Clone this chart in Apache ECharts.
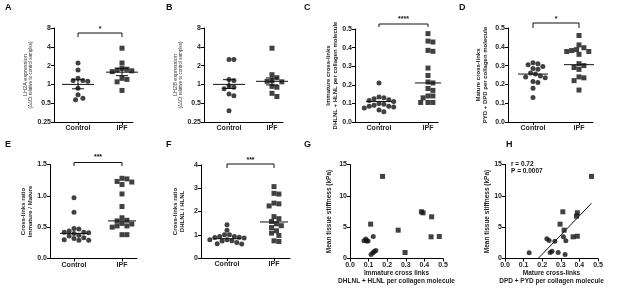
<!DOCTYPE html>
<html>
<head>
<meta charset="utf-8">
<script src="https://cdn.jsdelivr.net/npm/echarts@6/dist/echarts.min.js"></script>
<style>
html, body { margin: 0; padding: 0; background: #fff; }
#chart { width: 617px; height: 290px; }
</style>
</head>
<body>
<div id="chart"></div>
<script>
// values
const groups = ['Control', 'IPF'];

// A - LH2A expression
const lh2aControl = [2.2, 1.7, 1.25, 1.15, 1.15, 1.12, 0.87, 0.68, 0.6, 0.57];
const lh2aIPF = [3.8, 2.2, 1.8, 1.75, 1.7, 1.65, 1.6, 1.25, 1.2, 1.1, 0.8];
const lh2aMean = [1.0, 1.57];
const lh2aSem = [[0.85, 1.19], [1.38, 1.8]];

// B - LH2B expression
const lh2bControl = [2.5, 2.5, 1.2, 1.15, 0.95, 0.9, 0.85, 0.7, 0.66, 0.38];
const lh2bIPF = [3.8, 1.43, 1.28, 1.15, 1.12, 1.1, 0.93, 0.9, 0.72, 0.64];
const lh2bMean = [1.0, 1.12];
const lh2bSem = [[0.86, 1.19], [0.98, 1.27]];

// C - immature cross-links
const immatureControl = [0.21, 0.135, 0.13, 0.125, 0.12, 0.115, 0.11, 0.1, 0.095, 0.09, 0.085, 0.085, 0.08, 0.075, 0.065, 0.055];
const immatureIPF = [0.475, 0.435, 0.43, 0.385, 0.38, 0.29, 0.25, 0.215, 0.21, 0.18, 0.17, 0.14, 0.14, 0.13, 0.105, 0.105, 0.105];
const immatureMedian = [0.11, 0.21];

// D - mature cross-links
const matureControl = [0.315, 0.31, 0.305, 0.295, 0.285, 0.28, 0.26, 0.255, 0.245, 0.24, 0.235, 0.215, 0.21, 0.18, 0.13];
const matureIPF = [0.46, 0.41, 0.395, 0.385, 0.38, 0.375, 0.375, 0.36, 0.31, 0.3, 0.29, 0.28, 0.24, 0.235, 0.22, 0.17];
const matureMedian = [0.255, 0.305];

// E - immature / mature ratio
const ratioImmControl = [0.97, 0.74, 0.48, 0.47, 0.44, 0.42, 0.42, 0.41, 0.40, 0.37, 0.36, 0.33, 0.32, 0.30, 0.29, 0.29];
const ratioImmIPF = [1.28, 1.27, 1.23, 1.22, 1.18, 1.03, 0.83, 0.65, 0.61, 0.60, 0.56, 0.55, 0.52, 0.52, 0.50, 0.38, 0.38];
const ratioImmMedian = [0.40, 0.60];

// F - DHLNL / HLNL ratio
const ratioDhControl = [1.43, 1.19, 1.0, 1.0, 0.93, 0.92, 0.89, 0.88, 0.86, 0.79, 0.79, 0.74, 0.73, 0.67, 0.61, 0.6];
const ratioDhIPF = [3.07, 2.78, 2.75, 2.36, 2.33, 2.24, 1.78, 1.69, 1.57, 1.47, 1.39, 1.31, 1.17, 1.07, 0.97, 0.74, 0.71];
const ratioDhMedian = [0.83, 1.55];

// G - stiffness vs immature cross-links [x, kPa]
const stiffImmControl = [[0.075, 2.85], [0.085, 3.1], [0.09, 2.8], [0.097, 2.8], [0.125, 3.5], [0.113, 0.64], [0.123, 0.9], [0.13, 1.12], [0.139, 1.28]];
const stiffImmIPF = [[0.175, 13.1], [0.111, 5.48], [0.259, 4.52], [0.296, 0.96], [0.384, 7.45], [0.393, 7.29], [0.439, 6.65], [0.436, 3.46], [0.48, 3.51]];

// H - stiffness vs mature cross-links [x, kPa]
const stiffMatControl = [[0.13, 0.9], [0.225, 3.14], [0.237, 2.87], [0.268, 2.77], [0.243, 0.96], [0.253, 1.17], [0.286, 0.96], [0.323, 0.64], [0.327, 2.82], [0.314, 3.46]];
const stiffMatIPF = [[0.465, 13.1], [0.311, 7.45], [0.389, 7.29], [0.384, 6.75], [0.296, 5.48], [0.318, 4.52], [0.366, 3.46], [0.389, 3.56]];
const stiffMatFit = [[0.178, 0], [0.465, 8.8]];
const stiffMatStats = ['r = 0.72', 'P = 0.0007'];

const FONT = '"Liberation Sans", Arial, sans-serif';
const INK = '#111';

const columnPanels = [
    { box: [54, 28, 79, 94], ctrl: 78, ipf: 122, y: { type: 'log', min: 0.25, max: 8 },
      c: lh2aControl, p: lh2aIPF, mid: lh2aMean, sem: lh2aSem, half: 16,
      name: '{a|LH2A expression}\n{b|(ΔΔCt relative to control samples)}', gap: 15,
      sig: { text: '*', bar: 5, leg: 9, star: 1.5 } },
    { box: [204, 28, 79, 94], ctrl: 229, ipf: 272, y: { type: 'log', min: 0.25, max: 8 },
      c: lh2bControl, p: lh2bIPF, mid: lh2bMean, sem: lh2bSem, half: 16,
      name: '{a|LH2B expression}\n{b|(ΔΔCt relative to control samples)}', gap: 17 },
    { box: [355, 29, 83, 93], ctrl: 379, ipf: 428, y: { min: 0, max: 0.5, interval: 0.1, dec: 1 },
      c: immatureControl, p: immatureIPF, mid: immatureMedian, half: 13,
      name: 'Immature cross-links\nDHLNL + HLNL per collagen molecule', gap: 15,
      sig: { text: '****', bar: -5, leg: -2, star: -9.5 } },
    { box: [508, 28, 85, 94], ctrl: 533, ipf: 579, y: { min: 0, max: 0.5, interval: 0.1, dec: 1 },
      c: matureControl, p: matureIPF, mid: matureMedian, half: 15,
      name: 'Mature cross-links\nPYD + DPD per collagen molecule', gap: 19,
      sig: { text: '*', bar: -5, leg: 0, star: -8.5 } },
    { box: [50, 164.5, 87, 94], ctrl: 74, ipf: 122, y: { min: 0, max: 1.5, interval: 0.5, dec: 1 },
      c: ratioImmControl, p: ratioImmIPF, mid: ratioImmMedian, half: 14,
      name: 'Cross-links ratio\nImmature / Mature', gap: 16,
      sig: { text: '***', bar: -2, leg: 1.5, star: -7 } },
    { box: [201, 165, 89, 93], ctrl: 227, ipf: 274, y: { min: 0, max: 4, interval: 1, dec: 0 },
      c: ratioDhControl, p: ratioDhIPF, mid: ratioDhMedian, half: 14,
      name: 'Cross-links ratio\nDHLNL / HLNL', gap: 15,
      sig: { text: '***', bar: -1, leg: 3, star: -4.5 } }
];

const tickLabel = { color: '#222', fontSize: 7, fontWeight: 'bold', fontFamily: FONT };
const axisLine = { show: true, onZero: false, lineStyle: { color: '#000', width: 1 } };
const axisTick = { show: true, length: 3, lineStyle: { color: '#000', width: 1 } };
const nameStyle = { color: '#222', fontSize: 6, fontWeight: 'bold', fontFamily: FONT, lineHeight: 7 };

// simple beeswarm: spread equal-ish values sideways so the dots don't pile up
function swarm(values, toPx, dia) {
    const placed = [];
    const out = new Array(values.length);
    const order = values.map((_, i) => i).sort((a, b) => values[b] - values[a]);
    order.forEach(i => {
        const py = toPx(values[i]);
        let best = 0;
        for (let k = 0; k < 80; k++) {
            const step = Math.ceil(k / 2) * dia * 0.5;
            const off = k % 2 ? step : -step;
            if (placed.every(q => (q[0] - off) ** 2 + (q[1] - py) ** 2 >= dia * dia)) { best = off; break; }
        }
        placed.push([best, py]);
        out[i] = best;
    });
    return out;
}

const grids = [], xAxes = [], yAxes = [], series = [];

columnPanels.forEach((p, i) => {
    const [left, top, width, height] = p.box;
    const spacing = p.ipf - p.ctrl;
    grids.push({ left, top, width, height });
    xAxes.push({
        gridIndex: i, type: 'value',
        min: (left - p.ctrl) / spacing, max: (left + width - p.ctrl) / spacing,
        splitLine: { show: false }, axisLine,
        axisTick: Object.assign({ customValues: [0, 1] }, axisTick),
        axisLabel: Object.assign({ customValues: [0, 1], margin: 3,
            formatter: v => (v === 0 ? groups[0] : v === 1 ? groups[1] : '') }, tickLabel)
    });
    const isLog = p.y.type === 'log';
    yAxes.push({
        gridIndex: i, type: isLog ? 'log' : 'value',
        logBase: 2, min: p.y.min, max: p.y.max, interval: p.y.interval,
        splitLine: { show: false }, axisLine, axisTick,
        axisLabel: Object.assign({ margin: 3,
            formatter: v => (isLog ? String(+v.toFixed(2)) : v.toFixed(p.y.dec)) }, tickLabel),
        name: p.name, nameLocation: 'middle', nameRotate: 90, nameGap: p.gap,
        nameTextStyle: isLog ? {
            rich: {
                a: { fontSize: 5.5, color: '#333', fontFamily: FONT, lineHeight: 6 },
                b: { fontSize: 4.5, color: '#333', fontFamily: FONT, lineHeight: 5 }
            }
        } : nameStyle
    });
    const toPx = isLog
        ? v => Math.log2(v) * height / (Math.log2(p.y.max) - Math.log2(p.y.min))
        : v => v * height / (p.y.max - p.y.min);
    [p.c, p.p].forEach((vals, g) => {
        const offs = swarm(vals, toPx, 4.9);
        series.push({
            type: 'scatter', xAxisIndex: i, yAxisIndex: i,
            symbol: g ? 'rect' : 'circle', symbolSize: 5,
            itemStyle: { color: INK },
            data: vals.map((v, k) => [g + offs[k] / spacing, v])
        });
    });
    // mean (+ SEM) or median line
    series.push({
        type: 'custom', xAxisIndex: i, yAxisIndex: i, clip: false, z: 3,
        encode: { x: 0, y: 1 },
        data: p.mid.map((m, g) => [g, m, p.sem ? p.sem[g][0] : m, p.sem ? p.sem[g][1] : m]),
        renderItem: (params, api) => {
            const c = api.coord([api.value(0), api.value(1)]);
            const st = { stroke: INK, lineWidth: 1 };
            const kids = [{ type: 'line', shape: { x1: c[0] - p.half, y1: c[1], x2: c[0] + p.half, y2: c[1] }, style: st }];
            if (p.sem) {
                const lo = api.coord([api.value(0), api.value(2)]);
                const hi = api.coord([api.value(0), api.value(3)]);
                kids.push({ type: 'line', shape: { x1: c[0], y1: lo[1], x2: c[0], y2: hi[1] }, style: st });
                kids.push({ type: 'line', shape: { x1: c[0] - 6, y1: lo[1], x2: c[0] + 6, y2: lo[1] }, style: st });
                kids.push({ type: 'line', shape: { x1: c[0] - 6, y1: hi[1], x2: c[0] + 6, y2: hi[1] }, style: st });
            }
            return { type: 'group', children: kids };
        }
    });
    if (p.sig) {
        series.push({
            type: 'custom', xAxisIndex: i, yAxisIndex: i, clip: false,
            encode: { x: 0, y: 1 },
            data: [[0, p.y.max]],
            renderItem: (params, api) => {
                const a = api.coord([0, p.y.max]), b = api.coord([1, p.y.max]);
                const yb = a[1] + p.sig.bar, yl = a[1] + p.sig.leg;
                return {
                    type: 'group', children: [
                        { type: 'polyline', shape: { points: [[a[0], yl], [a[0], yb], [b[0], yb], [b[0], yl]] },
                          style: { stroke: INK, fill: null, lineWidth: 1 } },
                        { type: 'text', style: { text: p.sig.text, x: (a[0] + b[0]) / 2, y: a[1] + p.sig.star,
                          align: 'center', verticalAlign: 'middle', font: 'bold 7px ' + FONT, fill: INK } }
                    ]
                };
            }
        });
    }
});

// G and H: correlation scatter plots
const scatterPanels = [
    { box: [350, 164.5, 93, 94], c: stiffImmControl, p: stiffImmIPF,
      xname: 'Immature cross links\nDHLNL + HLNL per collagen molecule', gap: 17 },
    { box: [505, 164.5, 93, 94], c: stiffMatControl, p: stiffMatIPF, fit: stiffMatFit,
      xname: 'Mature cross-links\nDPD + PYD per collagen molecule', gap: 14 }
];

scatterPanels.forEach((p, j) => {
    const i = columnPanels.length + j;
    const [left, top, width, height] = p.box;
    grids.push({ left, top, width, height });
    xAxes.push({
        gridIndex: i, type: 'value', min: 0, max: 0.5, interval: 0.1,
        splitLine: { show: false }, axisLine, axisTick,
        axisLabel: Object.assign({ margin: 3, formatter: v => v.toFixed(1) }, tickLabel),
        name: p.xname, nameLocation: 'middle', nameGap: 11,
        nameTextStyle: { color: '#222', fontSize: 6.5, fontWeight: 'bold', fontFamily: FONT, lineHeight: 7.5 }
    });
    yAxes.push({
        gridIndex: i, type: 'value', min: 0, max: 15, interval: 5,
        splitLine: { show: false }, axisLine, axisTick,
        axisLabel: Object.assign({ margin: 3 }, tickLabel),
        name: 'Mean tissue stiffness (kPa)', nameLocation: 'middle', nameRotate: 90, nameGap: p.gap,
        nameTextStyle: { color: '#222', fontSize: 6.5, fontWeight: 'bold', fontFamily: FONT }
    });
    series.push({ type: 'scatter', xAxisIndex: i, yAxisIndex: i, symbol: 'circle', symbolSize: 5,
        itemStyle: { color: INK }, data: p.c });
    series.push({ type: 'scatter', xAxisIndex: i, yAxisIndex: i, symbol: 'rect', symbolSize: 5,
        itemStyle: { color: INK }, data: p.p });
    if (p.fit) {
        series.push({ type: 'line', xAxisIndex: i, yAxisIndex: i, data: p.fit, symbol: 'none',
            lineStyle: { color: INK, width: 1 } });
    }
});

const letters = [['A', 5, 3], ['B', 166, 3], ['C', 304, 3], ['D', 459, 3],
                 ['E', 5, 140.5], ['F', 166, 140.5], ['G', 304, 140.5], ['H', 506, 140.5]];

const option = {
    animation: false,
    backgroundColor: '#fff',
    grid: grids,
    xAxis: xAxes,
    yAxis: yAxes,
    series: series,
    graphic: letters.map(([t, x, y]) => ({
        type: 'text', left: x, top: y,
        style: { text: t, font: 'bold 9px ' + FONT, fill: INK }
    })).concat([{
        type: 'text', left: 511, top: 161,
        style: { text: stiffMatStats.join('\n'), font: 'bold 6.5px ' + FONT, fill: INK, lineHeight: 7 }
    }])
};

const chart = echarts.init(document.getElementById('chart'));
chart.setOption(option);
</script>
</body>
</html>
